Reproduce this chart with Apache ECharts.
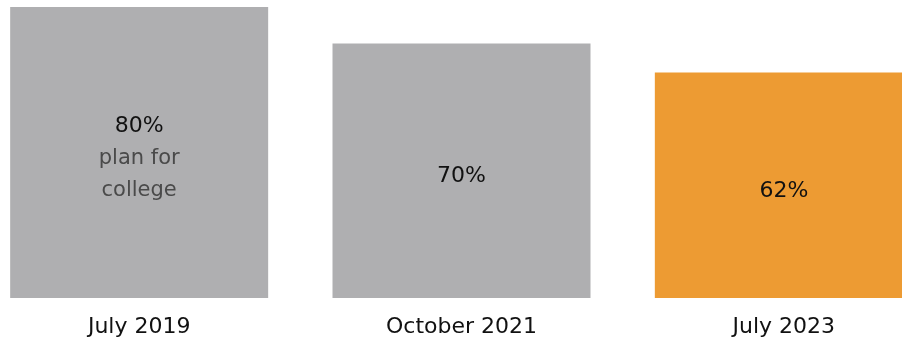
<!DOCTYPE html>
<html>
<head>
<meta charset="utf-8">
<script src="https://cdn.jsdelivr.net/npm/echarts@6/dist/echarts.min.js"></script>
<style>
html, body { margin: 0; padding: 0; background: #fff; }
#main { width: 902px; height: 343px; }
</style>
</head>
<body>
<div id="main"></div>
<script>
// 数据
var categories = ['July 2019', 'October 2021', 'July 2023'];
var values = [80, 70, 62];
var barColors = ['#afafb1', '#afafb1', '#ed9b33'];

var font = 'DejaVu Sans';
var chart = echarts.init(document.getElementById('main'));

chart.setOption({
    animation: false,
    textStyle: { fontFamily: font },
    grid: {
        left: -22,
        width: 967,
        top: 7,
        bottom: 45,
        outerBoundsMode: 'none'
    },
    xAxis: {
        type: 'category',
        data: categories,
        axisLine: { show: false },
        axisTick: { show: false },
        axisLabel: {
            fontSize: 22,
            color: '#111',
            margin: 18,
            fontFamily: font
        }
    },
    yAxis: {
        type: 'value',
        min: 0,
        max: 80,
        show: false
    },
    series: [{
        type: 'bar',
        barWidth: 258,
        data: values.map(function (v, i) {
            return { value: v, itemStyle: { color: barColors[i] } };
        }),
        label: {
            show: true,
            position: 'inside',
            offset: [0, 6],
            fontSize: 22,
            color: '#111',
            fontFamily: font,
            formatter: function (p) {
                if (p.dataIndex === 0) {
                    return '{a|' + p.value + '%}\n{b|plan for}\n{b|college}';
                }
                return p.value + '%';
            },
            rich: {
                a: { fontSize: 22, color: '#111', lineHeight: 32, fontFamily: font },
                b: { fontSize: 21, color: '#4a4a4a', lineHeight: 32, fontFamily: font }
            }
        }
    }]
});
</script>
</body>
</html>
